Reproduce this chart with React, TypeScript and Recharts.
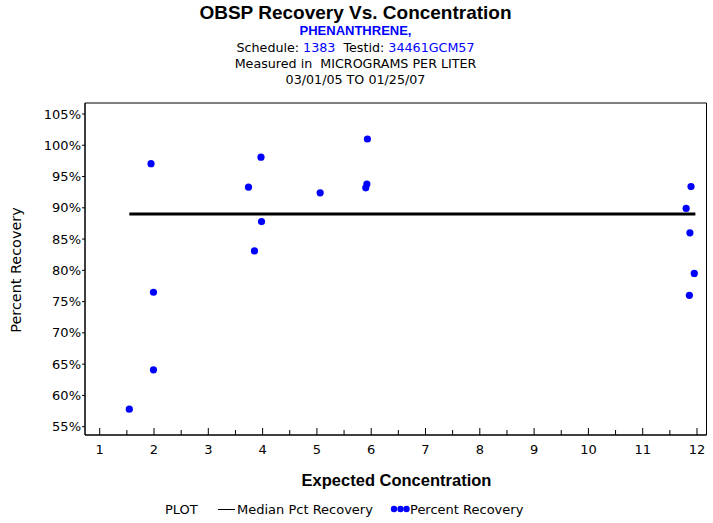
import React from "react";
import {
  ComposedChart,
  Scatter,
  XAxis,
  YAxis,
  ReferenceArea,
} from "recharts";

// ---- data ----
const concentration = [1.545, 1.945, 1.99, 1.99, 3.74, 3.85, 3.97, 3.98, 5.06, 5.93, 5.92, 5.9, 11.8, 11.89, 11.87, 11.95, 11.86];
const recovery = [57.8, 97.05, 76.5, 64.1, 93.3, 83.1, 98.1, 87.8, 92.4, 101.0, 93.8, 93.2, 89.9, 93.4, 86.0, 79.5, 76.0];
const medianX = [1.545, 11.97];
const medianPct = [89.0, 89.0];
const xTicks = [1, 1.5, 2, 2.5, 3, 3.5, 4, 4.5, 5, 5.5, 6, 6.5, 7, 7.5, 8, 8.5, 9, 9.5, 10, 10.5, 11, 11.5, 12];
const yTicks = [55, 60, 65, 70, 75, 80, 85, 90, 95, 100, 105];
const xDomain = [0.729, 12.175];
const yDomain = [53.67, 106.76];

const points = concentration.map((x, i) => ({ x, y: recovery[i] }));
const medianData = medianX.map((x, i) => ({ x, y: medianPct[i] }));

const FONT = "'DejaVu Sans', sans-serif";
const BOLD = "'Liberation Sans', Arial, sans-serif";
const BLUE = "#0000ff";

const XTick = (props: any) => {
  const { x, y, payload } = props;
  const v = payload.value;
  const major = Number.isInteger(v);
  return (
    <g>
      <line x1={x} x2={x} y1={y} y2={y - (major ? 7 : 5)} stroke="#000" strokeWidth={1} />
      {major && (
        <text x={x} y={y + 18.5} textAnchor="middle" fontSize={13} fontFamily={FONT} fill="#000">
          {v}
        </text>
      )}
    </g>
  );
};

const Dot = (props: any) => <circle cx={props.cx} cy={props.cy} r={3.6} fill={BLUE} />;
const NoShape = () => <g />;

export default function App() {
  return (
    <div style={{ position: "absolute", left: 0, top: 0, width: 713, height: 523, background: "#fff" }}>
      <ComposedChart
        width={713}
        height={523}
        margin={{ top: 103, right: 6.5, bottom: 58, left: 25 }}
      >
        <XAxis
          type="number"
          dataKey="x"
          domain={xDomain}
          ticks={xTicks}
          interval={0}
          allowDataOverflow
          height={30}
          tickLine={false}
          tickSize={0}
          tickMargin={0}
          tick={<XTick />}
          axisLine={{ stroke: "#000" }}
        />
        <YAxis
          type="number"
          dataKey="y"
          domain={yDomain}
          ticks={yTicks}
          interval={0}
          allowDataOverflow
          width={60}
          tickSize={3}
          tickMargin={1}
          tickFormatter={(v: number) => `${v}%`}
          tick={{ fontSize: 13, fill: "#000", fontFamily: FONT }}
          tickLine={{ stroke: "#000" }}
          axisLine={{ stroke: "#000" }}
        />
        <ReferenceArea
          x1={xDomain[0]}
          x2={xDomain[1]}
          y1={yDomain[0]}
          y2={yDomain[1]}
          fill="none"
          stroke="#000"
          strokeWidth={1}
          ifOverflow="visible"
        />
        <Scatter
          data={points}
          dataKey="y"
          shape={<Dot />}
          isAnimationActive={false}
        />
        <Scatter
          data={medianData}
          dataKey="y"
          line={{ stroke: "#000", strokeWidth: 3 }}
          shape={<NoShape />}
          isAnimationActive={false}
        />
      </ComposedChart>
      <svg
        width={713}
        height={523}
        style={{ position: "absolute", left: 0, top: 0, pointerEvents: "none" }}
      >
        <text x={355.5} y={19} textAnchor="middle" fontFamily={BOLD} fontWeight="bold" fontSize={19} fill="#000">
          OBSP Recovery Vs. Concentration
        </text>
        <text x={355.5} y={35} textAnchor="middle" fontFamily={BOLD} fontWeight="bold" fontSize={13} fill={BLUE}>
          PHENANTHRENE,
        </text>
        <text x={355.5} y={51.5} textAnchor="middle" fontFamily={FONT} fontSize={12.7} fill="#000" style={{ whiteSpace: "pre" }}>
          <tspan>Schedule: </tspan>
          <tspan fill={BLUE}>1383</tspan>
          <tspan>{"  Testid: "}</tspan>
          <tspan fill={BLUE}>34461GCM57</tspan>
        </text>
        <text x={355.5} y={67.5} textAnchor="middle" fontFamily={FONT} fontSize={12.7} fill="#000" style={{ whiteSpace: "pre" }}>
          {"Measured in  MICROGRAMS PER LITER"}
        </text>
        <text x={355.5} y={83.5} textAnchor="middle" fontFamily={FONT} fontSize={12.7} fill="#000">
          03/01/05 TO 01/25/07
        </text>
        <text x={396.5} y={486} textAnchor="middle" fontFamily={BOLD} fontWeight="bold" fontSize={16.5} fill="#000">
          Expected Concentration
        </text>
        <text
          x={0}
          y={0}
          transform="translate(21,270) rotate(-90)"
          textAnchor="middle"
          fontFamily={FONT}
          fontSize={14.4}
          fill="#000"
        >
          Percent Recovery
        </text>
        {/* legend */}
        <text x={165} y={514} fontFamily={FONT} fontSize={13} fill="#000">PLOT</text>
        <line x1={218} x2={235} y1={509.5} y2={509.5} stroke="#000" strokeWidth={1} />
        <text x={237} y={514} fontFamily={FONT} fontSize={13} fill="#000">Median Pct Recovery</text>
        <circle cx={394} cy={509} r={3.2} fill={BLUE} />
        <circle cx={400.5} cy={509} r={3.2} fill={BLUE} />
        <circle cx={406.5} cy={509} r={3.2} fill={BLUE} />
        <text x={410} y={514} fontFamily={FONT} fontSize={13} fill="#000">Percent Recovery</text>
      </svg>
    </div>
  );
}
